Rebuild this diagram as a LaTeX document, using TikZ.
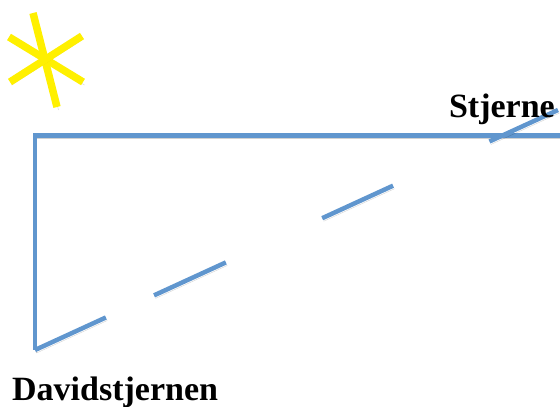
\documentclass[tikz,border=0pt]{standalone}
\usepackage{fontspec}
\setmainfont{Liberation Serif}
\definecolor{lineblue}{RGB}{96,150,206}
\definecolor{staryellow}{RGB}{255,240,0}
\tikzset{
  shade line/.style={preaction={draw=black, opacity=0.18, transform canvas={shift={(1.5pt,-3pt)}}, #1}},
  shade line/.default={},
  gapline/.style={dash pattern=on 78pt off 53pt on 79pt off 106pt on 78pt off 106pt on 90pt off 100pt},
  bluebar/.style={draw=lineblue, line width=4.5pt, shade line=#1, #1},
  bluebar/.default={},
  starbar/.style={draw=staryellow, line width=7.5pt, shade line},
  label/.style={font=\bfseries\fontsize{34}{38}\selectfont, inner sep=0pt}
}
\begin{document}
\begin{tikzpicture}[x=1pt,y=-1pt]
        \useasboundingbox (0,0) rectangle (560,407);
        % star
        \draw[starbar] (33,13)--(57,107);
        \draw[starbar] (9,37)--(83,82);
        \draw[starbar] (10,82)--(82,36);
        % triangle
        \coordinate (tl) at (35,135.5);
        \coordinate (tr) at (560,135.5);
        \coordinate (bl) at (35,350);
        \coordinate (de) at (558,110);
        \draw[bluebar] (tr)--(tl)--(bl);
        \draw[bluebar=gapline] (bl)--(de);
        \node[label, anchor=base east] (stj) at (555,117) {Stjerne};
        \node[label, anchor=base west] (dav) at (12,400) {Davidstjernen};
    \end{tikzpicture}
\end{document}
